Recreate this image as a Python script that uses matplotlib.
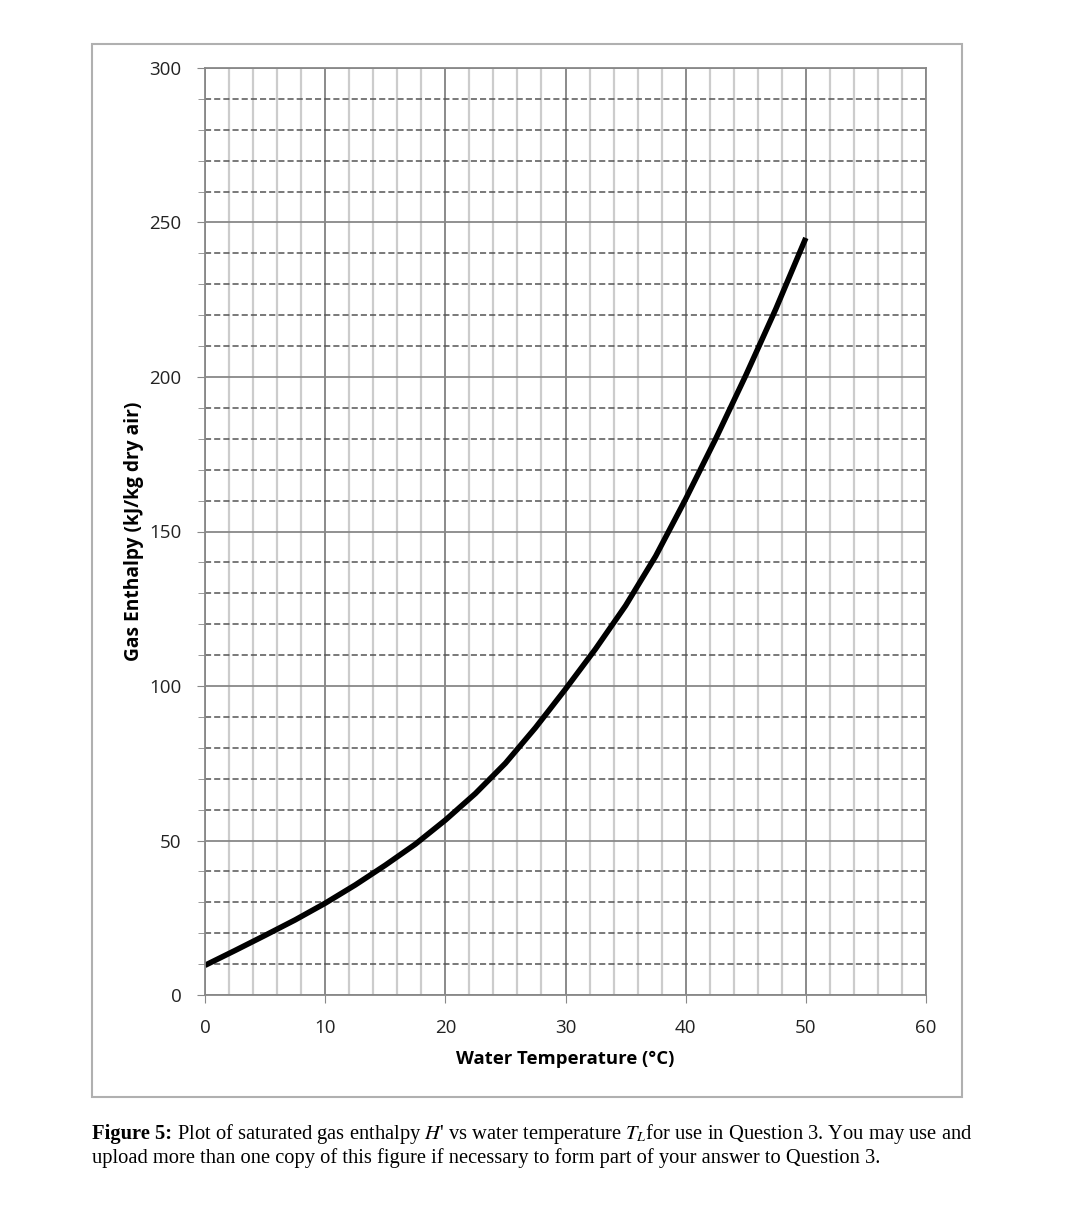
import matplotlib
matplotlib.use("Agg")
import matplotlib.pyplot as plt
from matplotlib.patches import Rectangle
from matplotlib.ticker import MultipleLocator

plt.rcParams['mathtext.fontset'] = 'stix'

# saturated gas enthalpy
temp = [0, 2.5, 5, 7.5, 10, 12.5, 15, 17.5, 20, 22.5, 25, 27.5, 30,
        32.5, 35, 37.5, 40, 42.5, 45, 47.5, 50]
enthalpy = [9.6, 14.4, 19.3, 24.3, 29.7, 35.6, 42.0, 48.8, 56.6, 65.2, 75.0, 86.5, 99.0,
            112.0, 126.0, 142.0, 160.5, 180.0, 200.5, 222.0, 245.0]

xlabel = "Water Temperature (\u00b0C)"
ylabel = "Gas Enthalpy (kJ/kg dry air)"
caption_bold = "Figure 5:"
caption_rest = (" Plot of saturated gas enthalpy $H$' vs water temperature $T_L$for use in Question 3. You may use and")
caption_line2 = "upload more than one copy of this figure if necessary to form part of your answer to Question 3."

fig = plt.figure(figsize=(10.8, 12.24), dpi=100)
ax = fig.add_axes([205 / 1080, 1 - 995 / 1224, 721 / 1080, 927 / 1224])

# outer frame
fig.patches.append(Rectangle((92 / 1080, 1 - 1097 / 1224), 870 / 1080, 1053 / 1224,
                             transform=fig.transFigure, fill=False,
                             edgecolor="#b0b0b0", linewidth=1.5))

ax.set_xlim(0, 60)
ax.set_ylim(0, 300)
ax.xaxis.set_major_locator(MultipleLocator(10))
ax.xaxis.set_minor_locator(MultipleLocator(2))
ax.yaxis.set_major_locator(MultipleLocator(50))
ax.yaxis.set_minor_locator(MultipleLocator(10))

ax.grid(which="major", axis="x", color="#777777", linewidth=1.2)
ax.grid(which="minor", axis="x", color="#cccccc", linewidth=1.6)
ax.grid(which="major", axis="y", color="#888888", linewidth=1.3)
ax.grid(which="minor", axis="y", color="#555555", linewidth=1.1, linestyle=(0, (4, 2)))
ax.set_axisbelow(True)

for s in ax.spines.values():
    s.set_color("#888888")
    s.set_linewidth(1.3)

ax.tick_params(which="major", direction="out", length=6, color="#888888",
               labelsize=13.5, pad=11, labelcolor="#222222")
ax.tick_params(which="minor", axis="y", direction="out", length=5, color="#888888")
ax.tick_params(which="minor", axis="x", length=0)
for lab in ax.get_xticklabels() + ax.get_yticklabels():
    lab.set_fontfamily("Open Sans")

ax.plot(temp, enthalpy, color="black", linewidth=4, solid_capstyle="butt",
        solid_joinstyle="round")

ax.set_xlabel(xlabel, fontsize=13.3, fontweight="bold", family="Open Sans", labelpad=10)
ax.set_ylabel(ylabel, fontsize=13.8, fontweight="bold", family="Open Sans", labelpad=4)

fs = 14.8
t1 = fig.text(92 / 1080, 1 - 1134 / 1224, caption_bold, fontsize=fs, fontweight="bold",
              family="Liberation Serif", va="center")
fig.canvas.draw()
bb = t1.get_window_extent()
fig.text(bb.x1 / 1080, 1 - 1134 / 1224, caption_rest, fontsize=fs,
         family="Liberation Serif", va="center")
fig.text(92 / 1080, 1 - 1158 / 1224, caption_line2, fontsize=fs,
         family="Liberation Serif", va="center")

fig.savefig("out.png", dpi=100)
